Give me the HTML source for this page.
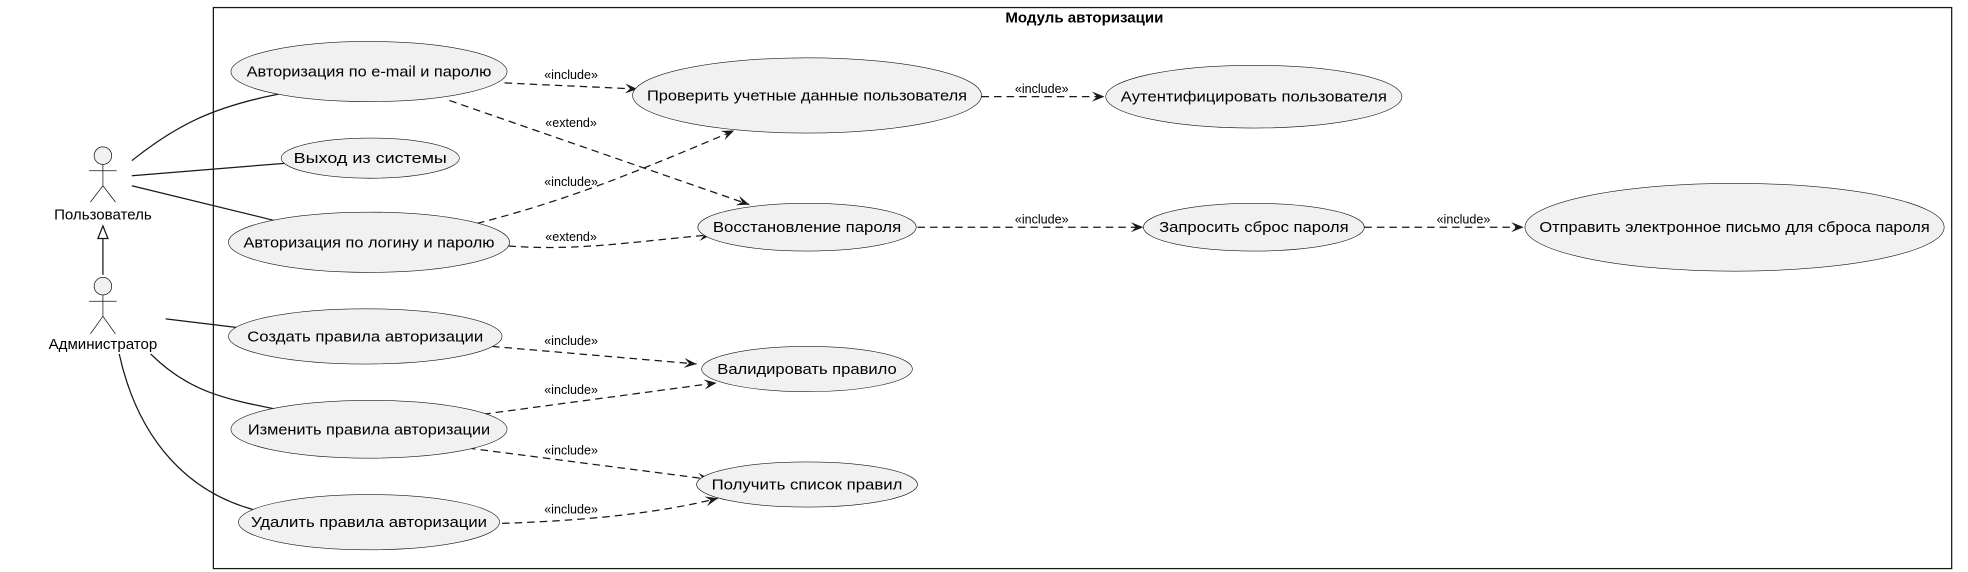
<!DOCTYPE html>
<html><head><meta charset="utf-8"><style>
html,body{margin:0;padding:0;background:#fff;}
svg{display:block;}
text{font-family:"Liberation Sans","DejaVu Sans",sans-serif;fill:#000;}
.u{font-size:12px;}
.s{font-size:10px;}
ellipse{fill:#f1f1f1;stroke:#181818;stroke-width:0.5;}
.l{fill:none;stroke:#181818;stroke-width:1;}
.d{fill:none;stroke:#181818;stroke-width:1;stroke-dasharray:6,4;marker-end:url(#a);}
</style></head><body>
<svg width="1968" height="572" viewBox="0 0 1568 455.7" xmlns="http://www.w3.org/2000/svg">
<defs><marker id="a" viewBox="0 0 10 8" refX="10" refY="4" markerWidth="10" markerHeight="8" markerUnits="userSpaceOnUse" orient="auto"><path d="M0,0 L10,4 L0,8 L4,4 Z" fill="#181818"/></marker></defs>
<rect x="170" y="6" width="1385" height="447" fill="none" stroke="#181818" stroke-width="1"/>
<text x="864" y="18" text-anchor="middle" style="font-size:12px;font-weight:bold">Модуль авторизации</text>

<!-- actors -->
<g fill="#f1f1f1" stroke="#181818" stroke-width="0.6">
<circle cx="82" cy="124" r="7"/><path d="M82,131 V148 M71,136 H93 M82,148 L72,161 M82,148 L92,161" fill="none"/>
<circle cx="82" cy="228" r="7"/><path d="M82,235 V252 M71,240 H93 M82,252 L72,266 M82,252 L92,266" fill="none"/>
</g>
<text x="82" y="175" text-anchor="middle" class="u">Пользователь</text>
<text x="82" y="278" text-anchor="middle" class="u">Администратор</text>
<path d="M82,219 V188" stroke="#181818" fill="none"/>
<path d="M78,190 L82,180 L86,190 Z" fill="#fff" stroke="#181818"/>

<!-- solid associations -->
<path class="l" d="M105,128 C140,100 170,85 222,75"/>
<path class="l" d="M105,140 L228,130"/>
<path class="l" d="M105,148 L220,176"/>
<path class="l" d="M132,254 L198,262"/>
<path class="l" d="M120,282 C150,312 180,318 220,326"/>
<path class="l" d="M95,282 C110,350 150,395 210,408"/>

<!-- dashed -->
<path class="d" d="M402,66 C440,68 470,69 508,71"/>
<path class="d" d="M358,80 L597,163"/>
<path class="d" d="M380,178 C450,160 500,140 585,104"/>
<path class="d" d="M405,196 C460,200 500,193 567,187"/>
<path class="d" d="M782,77 L880,77"/>
<path class="d" d="M731,181 L911,181"/>
<path class="d" d="M1087,181 L1214,181"/>
<path class="d" d="M392,276 L555,290"/>
<path class="d" d="M385,330 L571,305"/>
<path class="d" d="M373,357 L566,382"/>
<path class="d" d="M400,417 C460,415 520,410 572,397"/>

<g class="s" text-anchor="middle">
<text x="455" y="63">«include»</text>
<text x="455" y="101">«extend»</text>
<text x="455" y="148">«include»</text>
<text x="455" y="192">«extend»</text>
<text x="830" y="74">«include»</text>
<text x="830" y="178">«include»</text>
<text x="1166" y="178">«include»</text>
<text x="455" y="275">«include»</text>
<text x="455" y="314">«include»</text>
<text x="455" y="362">«include»</text>
<text x="455" y="409">«include»</text>
</g>

<!-- use cases -->
<ellipse cx="294" cy="57" rx="110" ry="24"/>
<ellipse cx="295" cy="126" rx="71" ry="16"/>
<ellipse cx="294" cy="193" rx="112" ry="24"/>
<ellipse cx="643" cy="76" rx="139" ry="30"/>
<ellipse cx="999" cy="77" rx="118" ry="25"/>
<ellipse cx="643" cy="181" rx="87" ry="19"/>
<ellipse cx="999" cy="181" rx="88" ry="19"/>
<ellipse cx="1382" cy="181" rx="167" ry="35"/>
<ellipse cx="291" cy="268" rx="109" ry="22"/>
<ellipse cx="643" cy="294" rx="84" ry="18"/>
<ellipse cx="294" cy="342" rx="110" ry="23"/>
<ellipse cx="643" cy="386" rx="88" ry="18"/>
<ellipse cx="294" cy="416" rx="104" ry="22"/>

<g class="u" text-anchor="middle">
<text x="294" y="61" textLength="195" lengthAdjust="spacingAndGlyphs">Авторизация по e-mail и паролю</text>
<text x="295" y="130" textLength="122" lengthAdjust="spacingAndGlyphs">Выход из системы</text>
<text x="294" y="197" textLength="200" lengthAdjust="spacingAndGlyphs">Авторизация по логину и паролю</text>
<text x="643" y="80" textLength="255" lengthAdjust="spacingAndGlyphs">Проверить учетные данные пользователя</text>
<text x="999" y="81" textLength="212" lengthAdjust="spacingAndGlyphs">Аутентифицировать пользователя</text>
<text x="643" y="185" textLength="150" lengthAdjust="spacingAndGlyphs">Восстановление пароля</text>
<text x="999" y="185" textLength="151" lengthAdjust="spacingAndGlyphs">Запросить сброс пароля</text>
<text x="1382" y="185" textLength="311" lengthAdjust="spacingAndGlyphs">Отправить электронное письмо для сброса пароля</text>
<text x="291" y="272" textLength="188" lengthAdjust="spacingAndGlyphs">Создать правила авторизации</text>
<text x="643" y="298" textLength="143" lengthAdjust="spacingAndGlyphs">Валидировать правило</text>
<text x="294" y="346" textLength="193" lengthAdjust="spacingAndGlyphs">Изменить правила авторизации</text>
<text x="643" y="390" textLength="152" lengthAdjust="spacingAndGlyphs">Получить список правил</text>
<text x="294" y="420" textLength="188" lengthAdjust="spacingAndGlyphs">Удалить правила авторизации</text>
</g>
</svg>
</body></html>
